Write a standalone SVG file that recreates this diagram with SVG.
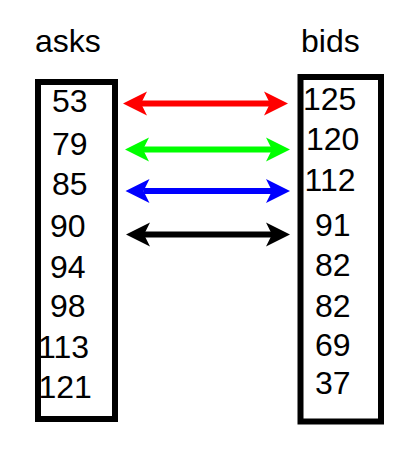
<svg xmlns="http://www.w3.org/2000/svg" width="417" height="457" viewBox="0 0 417 457">
<style>
text{font-family:"Liberation Sans",Arial,sans-serif;font-size:32px;fill:#000}
.box{fill:#fff;stroke:#000;stroke-width:6}
.arr{stroke-width:6;fill:none}
</style>
<defs>
<marker id="hr" markerUnits="userSpaceOnUse" markerWidth="30" markerHeight="30" refX="6" refY="0" viewBox="0 -15 30 30" orient="auto-start-reverse" overflow="visible"><path d="M0,-12 L24,0 L0,12 L6,0 Z" fill="#f00"/></marker>
<marker id="hg" markerUnits="userSpaceOnUse" markerWidth="30" markerHeight="30" refX="6" refY="0" viewBox="0 -15 30 30" orient="auto-start-reverse" overflow="visible"><path d="M0,-12 L24,0 L0,12 L6,0 Z" fill="#0f0"/></marker>
<marker id="hb" markerUnits="userSpaceOnUse" markerWidth="30" markerHeight="30" refX="6" refY="0" viewBox="0 -15 30 30" orient="auto-start-reverse" overflow="visible"><path d="M0,-12 L24,0 L0,12 L6,0 Z" fill="#00f"/></marker>
<marker id="hk" markerUnits="userSpaceOnUse" markerWidth="30" markerHeight="30" refX="6" refY="0" viewBox="0 -15 30 30" orient="auto-start-reverse" overflow="visible"><path d="M0,-12 L24,0 L0,12 L6,0 Z" fill="#000"/></marker>
</defs>
<rect width="417" height="457" fill="#fff"/>
<g id="asks">
<text x="35" y="52">asks</text>
<rect class="box" x="38" y="82" width="77" height="337"/>
<text x="52" y="112">53</text>
<text x="52" y="155">79</text>
<text x="52" y="195">85</text>
<text x="50" y="237">90</text>
<text x="50" y="278">94</text>
<text x="50" y="317">98</text>
<text x="38" y="358">113</text>
<text x="38.5" y="398">121</text>
</g>
<g id="bids">
<text x="301" y="52">bids</text>
<rect class="box" x="300.5" y="77" width="80.5" height="344.5"/>
<text x="303" y="110">125</text>
<text x="306" y="150">120</text>
<text x="304.5" y="191">112</text>
<text x="315" y="236">91</text>
<text x="315" y="276">82</text>
<text x="315" y="317">82</text>
<text x="315" y="356">69</text>
<text x="315" y="394">37</text>
</g>
<g id="connectors">
<line class="arr" x1="141" y1="103.5" x2="270" y2="103.5" stroke="#f00" marker-start="url(#hr)" marker-end="url(#hr)"/>
<line class="arr" x1="143" y1="149.5" x2="272" y2="149.5" stroke="#0f0" marker-start="url(#hg)" marker-end="url(#hg)"/>
<line class="arr" x1="143.5" y1="191" x2="272" y2="191" stroke="#00f" marker-start="url(#hb)" marker-end="url(#hb)"/>
<line class="arr" x1="144" y1="234.5" x2="272" y2="234.5" stroke="#000" marker-start="url(#hk)" marker-end="url(#hk)"/>
</g>
</svg>
